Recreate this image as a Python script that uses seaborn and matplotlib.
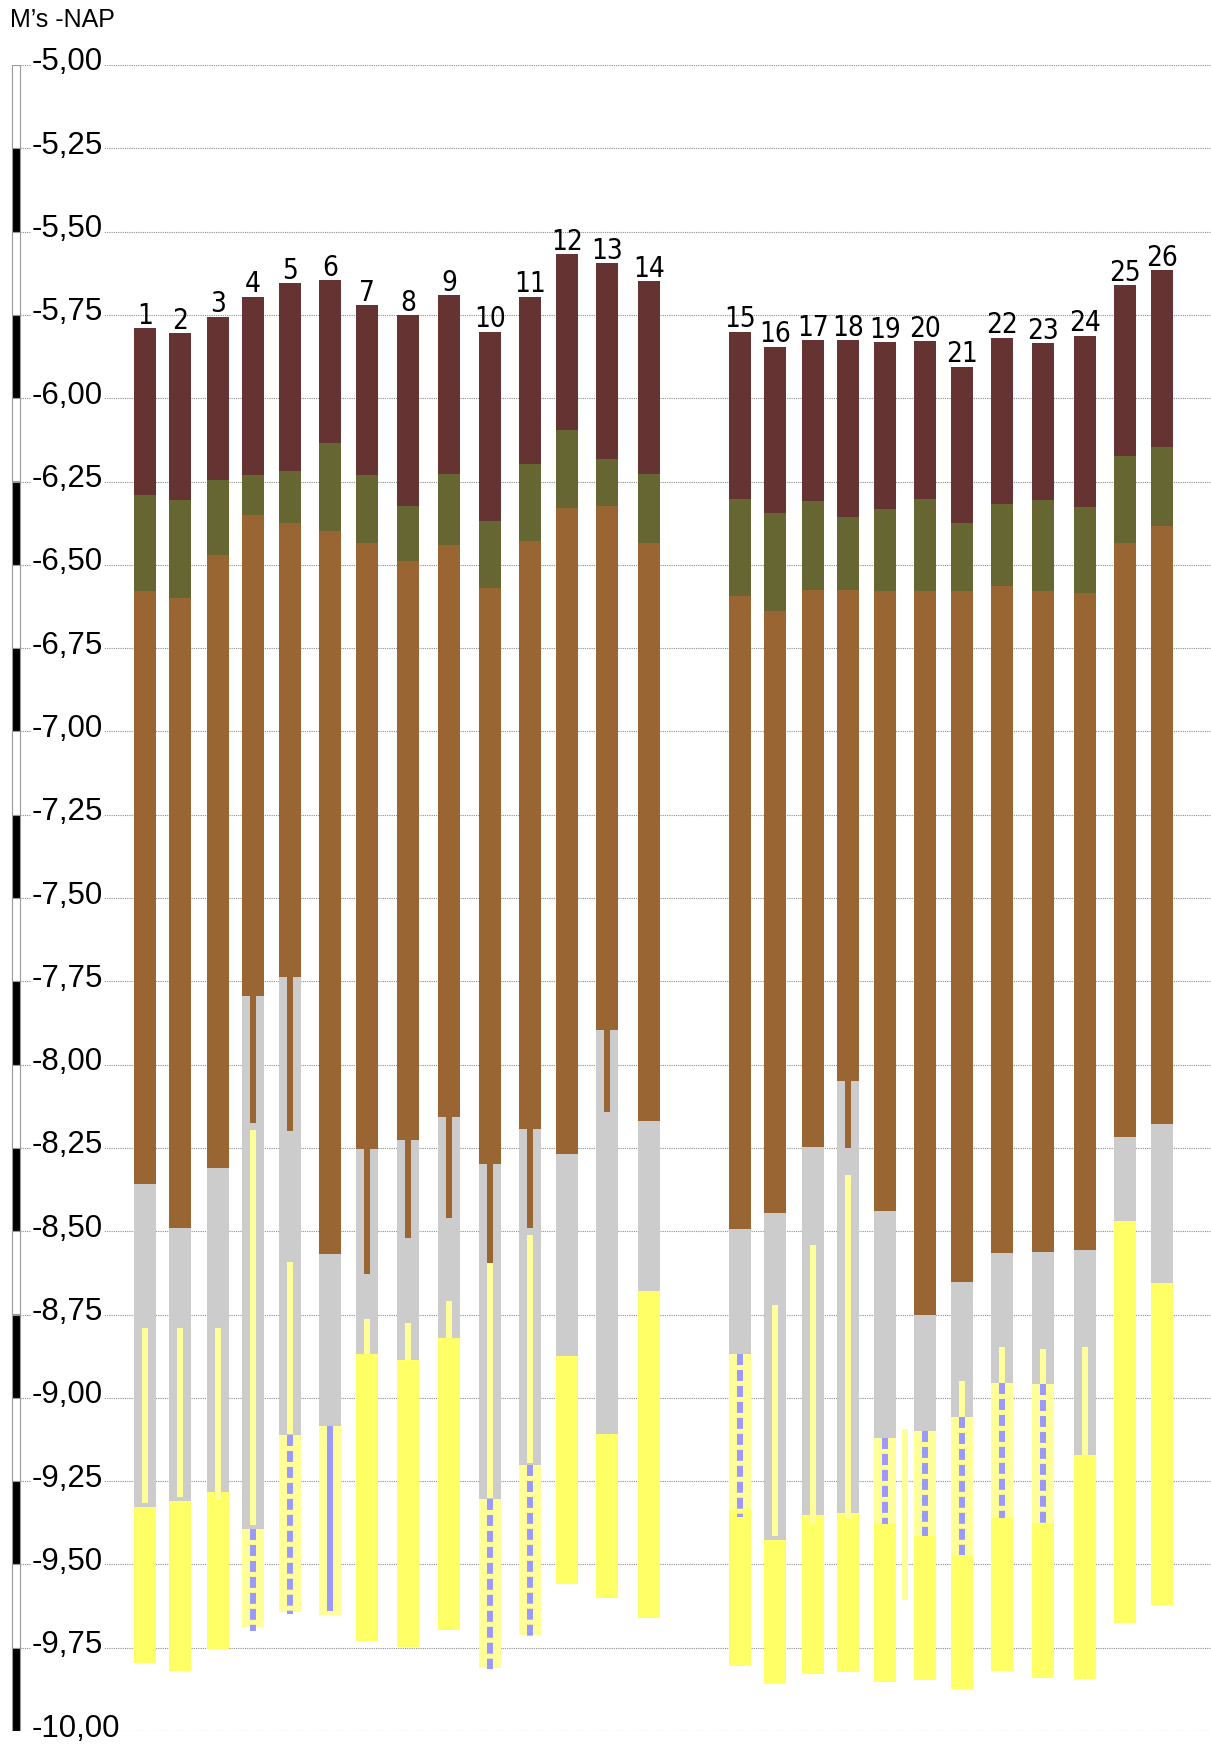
import matplotlib
matplotlib.use("Agg")
import matplotlib.pyplot as plt
from matplotlib import font_manager
from matplotlib.transforms import ScaledTranslation
import numpy as np
import pandas as pd
import seaborn as sns

# borings along the profile (distance in m, depths in m -NAP)
boring = list(range(1, 27))
afstand = [12.5, 16.0, 19.8, 23.3, 27.0, 31.0, 34.7, 38.8, 42.9, 47.0, 51.0, 54.7, 58.7, 62.9,
           72.0, 75.5, 79.3, 82.8, 86.5, 90.5, 94.2, 98.2, 102.3, 106.5, 110.5, 114.2]
maaiveld = [-5.79, -5.805, -5.755, -5.695, -5.655, -5.645, -5.72, -5.75, -5.69, -5.80, -5.695, -5.567, -5.595,
            -5.648, -5.80, -5.845, -5.826, -5.826, -5.832, -5.828, -5.905, -5.818, -5.835, -5.812, -5.661, -5.615]
onder_donker = [-6.29, -6.305, -6.244, -6.231, -6.217, -6.133, -6.231, -6.325, -6.227, -6.37, -6.196, -6.095,
                -6.181, -6.226, -6.304, -6.346, -6.309, -6.356, -6.332, -6.304, -6.374, -6.318, -6.306, -6.327,
                -6.172, -6.146]
onder_olijf = [-6.58, -6.60, -6.47, -6.35, -6.375, -6.40, -6.435, -6.49, -6.44, -6.57, -6.43, -6.33, -6.325,
               -6.435, -6.595, -6.64, -6.575, -6.575, -6.58, -6.58, -6.578, -6.565, -6.58, -6.585, -6.435, -6.385]
onder_bruin = [-8.358, -8.49, -8.31, -7.795, -7.738, -8.567, -8.253, -8.226, -8.158, -8.297, -8.192, -8.267,
               -7.897, -8.168, -8.493, -8.445, -8.248, -8.05, -8.44, -8.753, -8.652, -8.565, -8.563, -8.557,
               -8.217, -8.178]
onder_grijs = [-9.327, -9.31, -9.282, -9.393, -9.112, -9.085, -8.87, -8.887, -8.82, -9.303, -9.203, -8.876,
               -9.109, -8.68, -8.868, -9.428, -9.352, -9.347, -9.122, -9.10, -9.058, -8.957, -8.96, -9.173,
               -8.468, -8.655]
onder_lichtgeel = [-9.327, -9.31, -9.282, -9.688, -9.642, -9.652, -8.87, -8.887, -8.82, -9.81, -9.712, -8.876,
                   -9.109, -8.68, -9.338, -9.428, -9.352, -9.347, -9.377, -9.415, -9.472, -9.361, -9.375,
                   -9.173, -8.468, -8.655]
einddiepte = [-9.795, -9.82, -9.755, -9.688, -9.642, -9.652, -9.73, -9.748, -9.698, -9.81, -9.712, -9.56, -9.60,
              -9.66, -9.805, -9.86, -9.828, -9.823, -9.853, -9.848, -9.875, -9.82, -9.842, -9.845, -9.677, -9.623]

nan = np.nan
# narrow brown stripe continuing below the brown layer
smal_bruin_onder = [nan, nan, nan, -8.175, -8.20, nan, -8.627, -8.52, -8.46, -8.594, -8.49, nan, -8.142, nan,
                    nan, nan, nan, -8.25, nan, nan, nan, nan, nan, nan, nan, nan]
# narrow light-yellow stripe
smal_geel_boven = [-8.792, -8.792, -8.792, -8.196, -8.593, nan, -8.765, -8.777, -8.71, -8.594, -8.51, nan, nan,
                   nan, nan, -8.72, -8.54, -8.33, nan, nan, -8.95, -8.848, -8.853, -8.848, nan, nan]
smal_geel_onder = [-9.315, -9.298, -9.307, -9.383, -9.11, nan, -8.87, -8.887, -8.82, -9.30, -9.195, nan, nan,
                   nan, nan, -9.415, -9.378, -9.363, nan, nan, -9.058, -8.957, -8.96, -9.173, nan, nan]
# blue stripe (filter), dashed except boring 6
blauw_boven = [nan, nan, nan, -9.393, -9.112, -9.085, nan, nan, nan, -9.303, -9.203, nan, nan, nan,
               -8.868, nan, nan, nan, -9.122, -9.10, -9.058, -8.957, -8.96, nan, nan, nan]
blauw_onder = [nan, nan, nan, -9.70, -9.65, -9.64, nan, nan, nan, -9.815, -9.715, nan, nan, nan,
               -9.358, nan, nan, nan, -9.38, -9.415, -9.472, -9.361, -9.375, nan, nan, nan]
blauw_vol = [6]

# loose thin boring between 19 and 20
los_afstand = [88.5]
los_boven = [-9.095]
los_onder = [-9.608]

kleuren = {
    "donker": "#663333",
    "olijf": "#666633",
    "bruin": "#996633",
    "grijs": "#CCCCCC",
    "lichtgeel": "#FFFF99",
    "geel": "#FFFF66",
    "blauw": "#9999FF",
}


def pick_font(names, default):
    for name in names:
        try:
            font_manager.findfont(name, fallback_to_default=False)
            return name
        except ValueError:
            pass
    return default


sns.set_theme(style="white")
main_font = pick_font(["Liberation Sans", "Arimo"], "DejaVu Sans")
plt.rcParams["font.family"] = [main_font, "DejaVu Sans"]
plt.rcParams["text.color"] = "black"
plt.rcParams["lines.scale_dashes"] = False

# condensed face for the boring numbers, if one is installed
num_props = dict(family=[main_font, "DejaVu Sans"], fontsize=20)
for fam in ["Liberation Sans Narrow", "DejaVu Sans"]:
    try:
        path = font_manager.findfont(font_manager.FontProperties(family=fam, stretch="condensed"),
                                     fallback_to_default=False)
    except ValueError:
        continue
    if "narrow" in path.lower() or "condensed" in path.lower():
        num_props = dict(fontproperties=font_manager.FontProperties(fname=path, size=20))
        break

W, H = 1211, 1744
fig = plt.figure(figsize=(W / 100, H / 100), dpi=100)
ax = fig.add_axes([20 / W, (H - 1731) / H, (W - 20) / W, (1731 - 65) / H])
scale_ax = fig.add_axes([10 / W, (H - 1731) / H, 12 / W, (1731 - 65) / H])

# wide layers, stacked from top to bottom
df = pd.DataFrame({
    "boring": boring, "afstand": afstand, "maaiveld": maaiveld,
    "donker": onder_donker, "olijf": onder_olijf, "bruin": onder_bruin,
    "grijs": onder_grijs, "lichtgeel": onder_lichtgeel, "geel": einddiepte,
})
lagen = ["donker", "olijf", "bruin", "grijs", "lichtgeel", "geel"]
boven = df["maaiveld"]
for laag in lagen:
    onder = df[laag]
    ax.bar(df["afstand"], boven - onder, bottom=onder, width=2.2,
           color=kleuren[laag], linewidth=0, zorder=2)
    boven = onder

# narrow brown continuation
sb = pd.Series(smal_bruin_onder)
m = sb.notna()
ax.bar(df["afstand"][m], df["bruin"][m] - sb[m], bottom=sb[m], width=0.6,
       color=kleuren["bruin"], linewidth=0, zorder=3)

# narrow light-yellow stripes
gb, go = pd.Series(smal_geel_boven), pd.Series(smal_geel_onder)
m = gb.notna()
ax.bar(df["afstand"][m], gb[m] - go[m], bottom=go[m], width=0.6,
       color=kleuren["lichtgeel"], linewidth=0, zorder=3)
ax.bar(los_afstand, np.array(los_boven) - np.array(los_onder), bottom=los_onder, width=0.6,
       color=kleuren["lichtgeel"], linewidth=0, zorder=3)

# blue filter stripes
for b, x, top, bot in zip(boring, afstand, blauw_boven, blauw_onder):
    if np.isnan(top):
        continue
    if b in blauw_vol:
        ax.bar(x, top - bot, bottom=bot, width=0.6, color=kleuren["blauw"], linewidth=0, zorder=4)
    else:
        ax.plot([x, x], [top, bot], color=kleuren["blauw"], lw=4.3, dashes=(7.9, 3.6),
                dash_capstyle="butt", solid_capstyle="butt", zorder=4)

# boring numbers
for b, x, top in zip(boring, afstand, maaiveld):
    ax.annotate(str(b), xy=(x, top), xytext=(0, 3), textcoords="offset points",
                ha="center", va="baseline", color="black", **num_props)

# axes
ticks = np.arange(-10.0, -4.99, 0.25)
ax.set_ylim(-10, -5)
ax.set_xlim(0, (W - 20) / 10)
ax.set_xticks([])
ax.set_yticks(ticks)
ax.set_yticklabels([f"{t:.2f}".replace(".", ",") for t in ticks])
ax.tick_params(axis="y", length=0, pad=-8.6, labelsize=22.5, labelcolor="black")
lift = ScaledTranslation(0, 0.06, fig.dpi_scale_trans)
for lbl in ax.get_yticklabels():
    lbl.set_horizontalalignment("left")
    lbl.set_transform(lbl.get_transform() + lift)
    lbl.set_bbox(dict(facecolor="white", edgecolor="none", pad=0.5))
ax.grid(axis="y", color="#8c8c8c", linestyle=(0, (0.8, 0.8)), linewidth=0.8)
ax.grid(axis="x", visible=False)
ax.set_axisbelow(True)
sns.despine(ax=ax, left=True, bottom=True)

# black/white depth scale bar
for i, t in enumerate(ticks[1:][::-1]):
    scale_ax.bar(0.5, -0.25, bottom=t, width=0.66,
                 color="white" if i % 2 == 0 else "black", edgecolor="#999999", linewidth=0.8)
scale_ax.set_ylim(-10, -5)
scale_ax.set_xlim(0, 1)
scale_ax.axis("off")

fig.text(10 / W, 1 - 27 / H, "M\u2019s -NAP", fontsize=18, ha="left", va="baseline", color="black")

fig.savefig("out.png", dpi=100)
